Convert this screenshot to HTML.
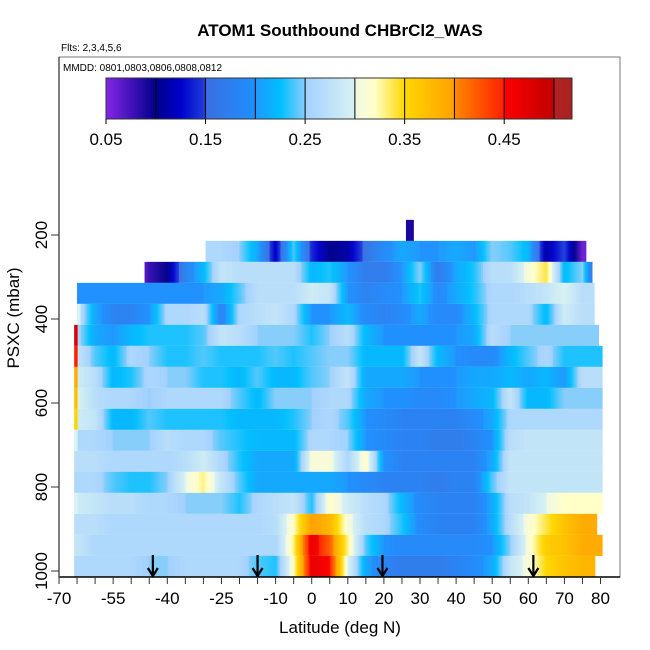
<!DOCTYPE html>
<html><head><meta charset="utf-8"><style>
html,body{margin:0;padding:0;background:#fff;}
svg{display:block;font-family:"Liberation Sans",Arial,sans-serif;}
</style></head><body>
<svg id="chart" width="650" height="650" viewBox="0 0 650 650" xmlns="http://www.w3.org/2000/svg">
<rect width="650" height="650" fill="#fff"/>
<text x="340" y="36" text-anchor="middle" font-size="17" font-weight="bold">ATOM1 Southbound CHBrCl2_WAS</text>
<text x="61" y="51" font-size="10">Flts: 2,3,4,5,6</text>
<g id="heat"></g>
<g id="arrows"></g>
<rect x="59" y="57" width="561" height="520" fill="none" stroke="#777" stroke-width="1"/>
<text x="63" y="71" font-size="10">MMDD: 0801,0803,0806,0808,0812</text>
<g id="cbar"></g>
<g id="axes"></g>
<text x="340" y="633" text-anchor="middle" font-size="17">Latitude (deg N)</text>
<text transform="translate(19,318) rotate(-90)" text-anchor="middle" font-size="17">PSXC (mbar)</text>
</svg>
<script>
// ---- data ----
const rowPressures = [239,289,339,389,439,489,539,589,639,689,739,789,839,889,939,989];
const rowFirstLat = [-30,-45,-65,-65,-65,-65,-65,-65,-65,-65,-65,-65,-65,-65,-65,-65];
const rowStart = [-29.4,-46.3,-65,-65,-65.8,-65.8,-65.8,-65.8,-65.8,-65.8,-65.8,-65.8,-65.8,-65.8,-65.8,-65.8];
const rowEnd = [76,77.7,78.3,78.3,79.5,80.5,80.5,80.5,80.5,80.5,80.5,80.5,80.5,79,80.5,78.5];
const rowEdge = [null,0.07,null,0.3,0.48,0.45,0.39,0.37,0.35,0.3,0.27,0.26,0.3,0.27,0.28,0.26];
const rowValues = [
 [0.26,0.26,0.25,0.21,0.12,0.24,0.14,0.1,0.11,0.16,0.19,0.21,0.2,0.2,0.21,0.2,0.25,0.24,0.22,0.11,0.15,0.06],
 [0.08,0.1,0.18,0.22,0.28,0.27,0.27,0.27,0.27,0.22,0.23,0.2,0.17,0.17,0.2,0.25,0.17,0.21,0.23,0.27,0.27,0.31,0.34,0.22,0.25,0.1],
 [0.2,0.2,0.2,0.2,0.2,0.2,0.2,0.2,0.21,0.24,0.27,0.27,0.27,0.29,0.28,0.2,0.18,0.19,0.2,0.23,0.19,0.21,0.23,0.26,0.26,0.27,0.28,0.3,0.27],
 [0.28,0.21,0.18,0.18,0.2,0.26,0.26,0.27,0.18,0.26,0.27,0.28,0.26,0.2,0.2,0.22,0.19,0.18,0.19,0.21,0.19,0.19,0.22,0.26,0.26,0.26,0.22,0.29,0.27],
 [0.26,0.21,0.2,0.22,0.23,0.23,0.23,0.24,0.28,0.27,0.25,0.25,0.25,0.23,0.25,0.27,0.22,0.2,0.2,0.2,0.2,0.2,0.21,0.27,0.25,0.25,0.25,0.25,0.25],
 [0.28,0.24,0.22,0.26,0.25,0.23,0.23,0.24,0.23,0.23,0.23,0.24,0.23,0.24,0.25,0.25,0.22,0.22,0.22,0.28,0.22,0.2,0.19,0.19,0.22,0.24,0.26,0.23,0.23],
 [0.29,0.27,0.22,0.23,0.26,0.25,0.25,0.23,0.23,0.22,0.24,0.22,0.22,0.24,0.25,0.28,0.21,0.21,0.21,0.2,0.2,0.2,0.21,0.21,0.22,0.21,0.22,0.2,0.27],
 [0.3,0.27,0.26,0.26,0.25,0.26,0.26,0.26,0.26,0.24,0.22,0.25,0.25,0.25,0.26,0.26,0.21,0.2,0.2,0.19,0.19,0.2,0.21,0.22,0.28,0.22,0.22,0.25,0.25],
 [0.29,0.28,0.22,0.22,0.24,0.23,0.23,0.23,0.23,0.22,0.22,0.22,0.23,0.25,0.26,0.24,0.2,0.19,0.18,0.18,0.18,0.18,0.19,0.21,0.26,0.26,0.26,0.26,0.26],
 [0.26,0.26,0.25,0.25,0.25,0.27,0.26,0.26,0.24,0.23,0.22,0.22,0.22,0.26,0.26,0.25,0.2,0.19,0.18,0.18,0.17,0.17,0.18,0.2,0.27,0.28,0.28,0.28,0.28],
 [0.27,0.27,0.26,0.26,0.26,0.26,0.27,0.29,0.26,0.23,0.21,0.21,0.21,0.31,0.31,0.26,0.32,0.2,0.18,0.18,0.18,0.18,0.18,0.21,0.28,0.28,0.28,0.28,0.28],
 [0.26,0.26,0.24,0.23,0.23,0.25,0.3,0.33,0.28,0.24,0.21,0.21,0.21,0.21,0.21,0.2,0.19,0.18,0.18,0.18,0.17,0.18,0.18,0.24,0.28,0.28,0.28,0.28,0.28],
 [0.29,0.28,0.27,0.27,0.26,0.26,0.25,0.25,0.25,0.23,0.26,0.27,0.28,0.23,0.32,0.29,0.27,0.26,0.22,0.19,0.18,0.18,0.18,0.21,0.27,0.28,0.3,0.32,0.32],
 [0.27,0.27,0.26,0.26,0.26,0.26,0.26,0.26,0.26,0.26,0.26,0.27,0.32,0.4,0.38,0.31,0.27,0.26,0.23,0.19,0.18,0.18,0.18,0.21,0.27,0.31,0.34,0.37,0.39],
 [0.28,0.26,0.26,0.26,0.26,0.26,0.26,0.26,0.26,0.26,0.26,0.26,0.33,0.47,0.42,0.33,0.24,0.2,0.19,0.19,0.19,0.19,0.19,0.2,0.25,0.31,0.36,0.37,0.39],
 [0.26,0.26,0.26,0.26,0.25,0.25,0.26,0.26,0.26,0.26,0.24,0.23,0.32,0.47,0.45,0.3,0.21,0.18,0.17,0.17,0.17,0.18,0.19,0.21,0.28,0.31,0.35,0.37,0.38]
];
const topCellLat = [26.1,28.3];
const topCellPressure = [164,214];
const topCellValue = [0.09];
const arrowLats = [-44,-15,19.6,61.4];
const xTicks = [-70,-65,-60,-55,-50,-45,-40,-35,-30,-25,-20,-15,-10,-5,0,5,10,15,20,25,30,35,40,45,50,55,60,65,70,75,80];
const xTickLabels = [-70,-55,-40,-25,-10,0,10,20,30,40,50,60,70,80];
const yTicks = [200,400,600,800,1000];
const cbarTicks = [0.05,0.15,0.25,0.35,0.45];
const cbarBreaks = [0.1,0.15,0.2,0.25,0.3,0.35,0.4,0.45,0.5];

// ---- scales ----
const NS='http://www.w3.org/2000/svg';
const xS = lat => 311.7 + 3.61*lat;
const yS = p => 235 + 0.42*(p-200);
const cS = v => 106 + (v-0.05)*995.5;
// colour map (style)
const cmV=[0.05,0.1,0.125,0.15,0.1501,0.2,0.2001,0.225,0.25,0.2501,0.3,0.3001,0.32,0.35,0.4,0.4001,0.45,0.4501,0.5,0.5001,0.53];
const cmC=['#8525e8','#00008b','#0000cd','#2040d8','#3a6ee0','#1e90ff','#1e98ff','#00bfff','#87cdfa','#a2d0ff','#d8f2f2','#f0f8e6','#ffffc8','#ffd700','#ffa000','#ff8800','#ff2000','#ff0000','#c00000','#b22222','#a52020'];
function hx(c){return [parseInt(c.substr(1,2),16),parseInt(c.substr(3,2),16),parseInt(c.substr(5,2),16)];}
function col(v){
  if(v<=cmV[0]) return cmC[0];
  for(let i=1;i<cmV.length;i++){ if(v<=cmV[i]){const t=(v-cmV[i-1])/(cmV[i]-cmV[i-1]);const a=hx(cmC[i-1]),b=hx(cmC[i]);return 'rgb('+a.map((x,k)=>Math.round(x+(b[k]-x)*t)).join(',')+')';}}
  return cmC[cmC.length-1];
}
function mk(tag,attrs,parent){const e=document.createElementNS(NS,tag);for(const k in attrs)e.setAttribute(k,attrs[k]);parent.appendChild(e);return e;}

// ---- heatmap ----
const heat=document.getElementById('heat');
rowPressures.forEach((p,r)=>{
  const g=mk('g',{},heat);
  
  
  const vals=rowValues[r], f=rowFirstLat[r];
  const y0=yS(p-25), y1=yS(p+25);
  const valAt=lat=>{let t=(lat-f)/5;if(t<=0)return vals[0];if(t>=vals.length-1)return vals[vals.length-1];const i=Math.floor(t);return vals[i]+(vals[i+1]-vals[i])*(t-i);};
  let xa=xS(rowStart[r]), xb=xS(rowEnd[r]);
  if(rowEdge[r]!==null){
    const xe=Math.min(xa+3.5,xb);
    const e=mk('rect',{x:xa,y:y0,width:xe-xa+0.3,height:y1-y0,fill:col(rowEdge[r])},g);
    
    
    xa=xe;
  }
  for(let x=xa;x<xb;x+=1){
    const w=Math.min(1,xb-x);
    const lat=(x+w/2-311.7)/3.61;
    const c=mk('rect',{x:x,y:y0,width:w+0.3,height:y1-y0,fill:col(valAt(lat))},g);
    
    
  }
});
{
  const c=mk('rect',{x:xS(topCellLat[0]),y:yS(topCellPressure[0]),width:xS(topCellLat[1])-xS(topCellLat[0]),height:yS(topCellPressure[1])-yS(topCellPressure[0]),fill:col(topCellValue[0])},heat);
  
  
}

// ---- arrows ----
const ar=document.getElementById('arrows');
arrowLats.forEach(l=>{
  const x=xS(l);
  const g=mk('g',{stroke:'#000','stroke-width':2.2,fill:'none'},ar);
  
  
  mk('line',{x1:x,y1:555,x2:x,y2:576},g);
  mk('polyline',{points:(x-5)+',568 '+x+',576 '+(x+5)+',568'},g);
});

// ---- colorbar ----
const cb=document.getElementById('cbar');
for(let x=106;x<572;x+=1){
  const v=0.05+(x+0.5-106)/995.5;
  const c=mk('rect',{x:x,y:78,width:1.3,height:41,fill:col(v)},cb);
  
  
}
cbarBreaks.forEach(v=>{const l=mk('line',{x1:cS(v),x2:cS(v),y1:78,y2:119,stroke:'#000','stroke-width':1},cb);
  
  });
const cbb=mk('rect',{x:106,y:78,width:466,height:41,fill:'none',stroke:'#333','stroke-width':1},cb);


cbarTicks.forEach(v=>{
  mk('line',{x1:cS(v),x2:cS(v),y1:119,y2:124,stroke:'#000'},cb);
  const t=mk('text',{x:cS(v),y:145,'text-anchor':'middle','font-size':17},cb);
  t.textContent=v.toFixed(2);
  
  
});

// ---- axes ----
const ax=document.getElementById('axes');
const xl=mk('line',{x1:59,x2:620,y1:577,y2:577,stroke:'#000','stroke-width':1.5},ax);


const yl=mk('line',{x1:59,x2:59,y1:57,y2:577,stroke:'#555','stroke-width':1.5},ax);


xTicks.forEach(v=>{const l=mk('line',{x1:xS(v),x2:xS(v),y1:577,y2:584,stroke:'#333'},ax);
  
  });
xTickLabels.forEach(v=>{const t=mk('text',{x:xS(v),y:604,'text-anchor':'middle','font-size':17},ax);t.textContent=v;
  
  });
yTicks.forEach(v=>{
  const l=mk('line',{x1:51,x2:59,y1:yS(v),y2:yS(v),stroke:'#333'},ax);
  
  
  const t=mk('text',{transform:'translate(47,'+yS(v)+') rotate(-90)','text-anchor':'middle','font-size':17},ax);t.textContent=v;
  
  
});
</script>
</body></html>
